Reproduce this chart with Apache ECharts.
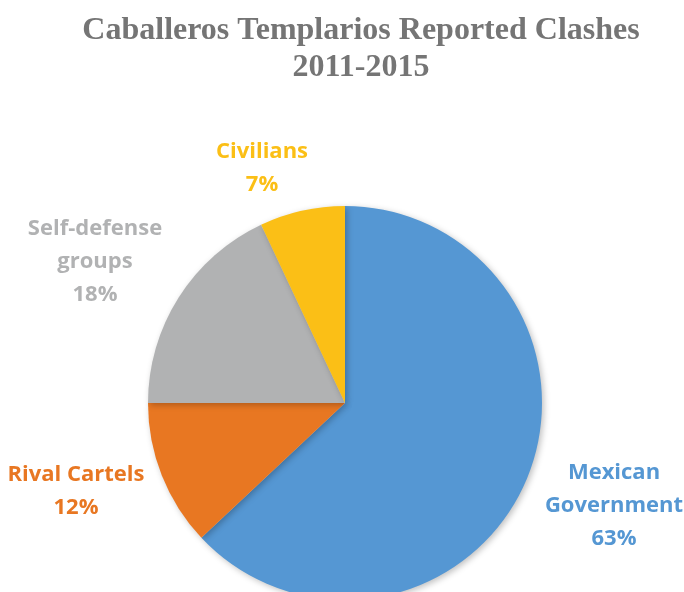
<!DOCTYPE html>
<html>
<head>
<meta charset="utf-8">
<script src="https://cdn.jsdelivr.net/npm/echarts@6/dist/echarts.min.js"></script>
<style>
    html, body { margin: 0; padding: 0; background: #fff; }
    #chart { width: 684px; height: 592px; }
</style>
</head>
<body>
<div id="chart"></div>
<script>
// 数据
const categories = ['Mexican\nGovernment', 'Rival Cartels', 'Self-defense\ngroups', 'Civilians'];
const shares = [63, 12, 18, 7];
const sliceColors = ['#5597d3', '#e87722', '#b1b2b3', '#fbbf16'];
const labelColors = ['#5597d3', '#e87722', '#b1b2b3', '#fbbf16'];
// 标签位置 (中心点)
const labelSpots = [[614, 506], [76, 491], [95, 262], [262, 168]];

const chart = echarts.init(document.getElementById('chart'));

const option = {
    animation: false,
    title: {
        text: 'Caballeros Templarios Reported Clashes\n2011-2015',
        left: 356,
        textAlign: 'center',
        top: 7,
        textStyle: {
            fontFamily: 'Liberation Serif',
            fontWeight: 'bold',
            fontSize: 32,
            lineHeight: 37,
            color: '#757575',
            align: 'center'
        }
    },
    series: [
        {
            name: 'Clashes',
            type: 'pie',
            center: [345, 403],
            radius: [0, 197],
            startAngle: 90,
            clockwise: true,
            itemStyle: {
                shadowBlur: 6,
                shadowColor: 'rgba(0,0,0,0.25)',
                shadowOffsetX: 2,
                shadowOffsetY: 2
            },
            label: {
                show: true,
                formatter: '{b}\n{d}%',
                fontFamily: 'Open Sans',
                fontWeight: 'bold',
                fontSize: 22,
                lineHeight: 33,
                align: 'center',
                verticalAlign: 'middle',
                overflow: 'none',
                alignTo: 'none'
            },
            labelLine: { show: false },
            labelLayout: function (params) {
                const p = labelSpots[params.dataIndex];
                return { x: p[0], y: p[1], align: 'center', verticalAlign: 'middle' };
            },
            emphasis: { disabled: true },
            data: categories.map((name, i) => ({
                name: name,
                value: shares[i],
                itemStyle: { color: sliceColors[i] },
                label: { color: labelColors[i] }
            }))
        }
    ]
};

chart.setOption(option);
</script>
</body>
</html>
